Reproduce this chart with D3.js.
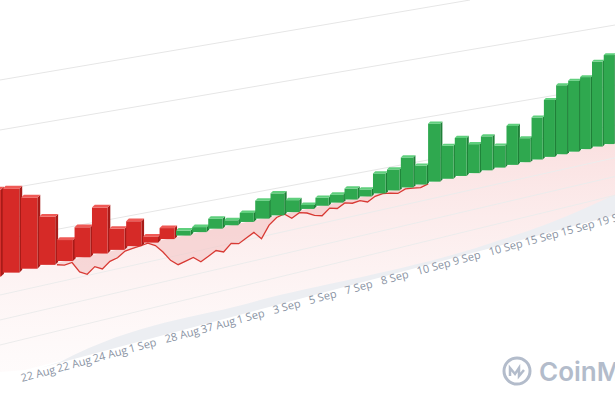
<!DOCTYPE html>
<html><head><meta charset="utf-8">
<script src="https://cdn.jsdelivr.net/npm/d3@7"></script>
<style>body{margin:0;background:#fff}svg{display:block}</style>
</head><body>
<svg id="chart" width="615" height="410"></svg>
<script>
// bar heights (signed: negative = red, positive = green)
const barVals = [-87, -84, -71, -48, -21, -30, -46, -21, -25, -6, -11,
  5, 5, 10, 5, 9, 18, 22, 12, 4, 8, 8, 11, 7, 20, 21, 30, 19, 58, 33,
  38, 29, 34, 22, 39, 24, 42, 57, 69, 71, 72, 85, 89];
// price line offset below the baseline, two points per bar from bar 4
const lineVals = [-2, -4, -3, -14, -18, -12, -16, -10, -8, -3, -2, -1, 0, -4, -12,
  -22, -28, -26, -24, -30, -26, -22, -25, -18, -20, -16, -12, -20, -8, -2,
  0, -6, -2, -4, -8, -10, -4, -6, -2, -4, -3, -6, -2, -1, -2, -4, -1, -2, -3, -1];
const tickLabels = ['22 Aug', '22 Aug', '24 Aug', '1 Sep', '28 Aug', '37 Aug', '1 Sep',
  '3 Sep', '5 Sep', '7 Sep', '8 Sep', '10 Sep', '9 Sep', '10 Sep', '15 Sep', '15 Sep', '19 Sep'];

const svg = d3.select('#chart');
const c = 0.0063;
const persp = i => (i + 1) / (1 + c * (i + 1));
const xScale = d3.scaleLinear().domain([persp(1), persp(42)]).range([11, 609]);
const bx = i => xScale(persp(i));           // i from 0 (cut off bar) .. 42
const depth = i => 1 / Math.pow(1 + c * (i + 1), 2);
const base = x => 275 - 0.215 * x;
const hScale = d3.scaleLinear().domain([0, 100]).range([0, 100]);

const defs = svg.append('defs');
const pg = defs.append('linearGradient').attr('id', 'pink').attr('x1', 0).attr('y1', 0).attr('x2', 0).attr('y2', 1);
pg.append('stop').attr('offset', 0).attr('stop-color', '#f4b7b7').attr('stop-opacity', 0.7);
pg.append('stop').attr('offset', 1).attr('stop-color', '#fbe9e9').attr('stop-opacity', 0.3);

// back gridlines
[[80, 470, 0], [130, 615, 25], [190, 615, 85], [240, 615, 125]].forEach(([y0, x1, y1]) =>
  svg.append('line').attr('x1', 0).attr('y1', y0).attr('x2', x1).attr('y2', y1)
    .attr('stroke', '#e6e6e6'));

// floor
svg.append('path').attr('d', `M0,${base(0)} L615,${base(615)} L615,215 L25,370 L0,372 Z`)
  .attr('fill', 'url(#pink)').attr('opacity', 0.6);
svg.append('path').attr('d', 'M60,362 C140,320 200,318 260,300 C330,282 420,268 500,240 C560,222 590,205 615,195 L615,215 L40,368 Z')
  .attr('fill', '#eceef2');
[20, 45, 70].forEach(o => svg.append('line')
  .attr('x1', 0).attr('y1', base(0) + o).attr('x2', 615).attr('y2', base(615) + o * 0.75)
  .attr('stroke', '#ececec'));

// price line
const lx = d3.scaleLinear().domain([0, lineVals.length - 1]).range([bx(4) - 8, bx(28) - 6]);
const pts = lineVals.map((v, j) => [lx(j), base(lx(j)) - v]);
svg.append('path').attr('d', d3.area().x(d => d[0]).y0(d => base(d[0])).y1(d => d[1])(pts))
  .attr('fill', '#f3c4c4').attr('opacity', 0.6);
svg.append('path').attr('d', d3.line()(pts)).attr('fill', 'none').attr('stroke', '#d83a34').attr('stroke-width', 1.3);

// bars
barVals.forEach((v, i) => {
  const k = depth(i);
  const w = 17 * k, x = bx(i) - w / 2, yb = base(bx(i));
  const h = hScale(Math.abs(v)), yt = yb - h;
  const red = v < 0;
  const front = red ? '#d62a27' : '#2fa84f', top = red ? '#ef5a56' : '#5fcf7d', side = red ? '#a81b18' : '#1f8038';
  const dx = 3 * k, dy = -3 * k;
  const g = svg.append('g');
  g.append('path').attr('d', `M${x + w},${yb} L${x + w + dx},${yb + dy} L${x + w + dx},${yt + dy} L${x + w},${yt} Z`).attr('fill', side);
  g.append('rect').attr('x', x).attr('y', yt).attr('width', w).attr('height', h).attr('fill', front);
  g.append('path').attr('d', `M${x},${yt} L${x + dx},${yt + dy} L${x + w + dx},${yt + dy} L${x + w},${yt} Z`).attr('fill', top);
});

// axis labels
const tx = d3.scaleLinear().domain([0, tickLabels.length - 1]).range([22, 598]);
tickLabels.forEach((t, j) => {
  const x = tx(j), y = 382 - (x - 22) * 0.27;
  svg.append('text').attr('x', x).attr('y', y).attr('transform', `rotate(-15,${x},${y})`)
    .attr('font-family', 'Open Sans, sans-serif').attr('font-size', 11).attr('fill', '#8a93a3').text(t);
});

// logo
const lg = svg.append('g').attr('transform', 'translate(517,371)');
lg.append('circle').attr('r', 13).attr('fill', 'none').attr('stroke', '#b3bccb').attr('stroke-width', 3);
lg.append('path').attr('d', 'M-7,5 L-7,-3 L-2,3 L2,-3 L2,5 L7,-1').attr('fill', 'none').attr('stroke', '#b3bccb').attr('stroke-width', 2.5);
svg.append('text').attr('x', 539).attr('y', 381).attr('font-family', 'Inter, sans-serif').attr('font-weight', 600)
  .attr('font-size', 26).attr('fill', '#b3bccb').text('CoinM');
</script>
</body></html>
